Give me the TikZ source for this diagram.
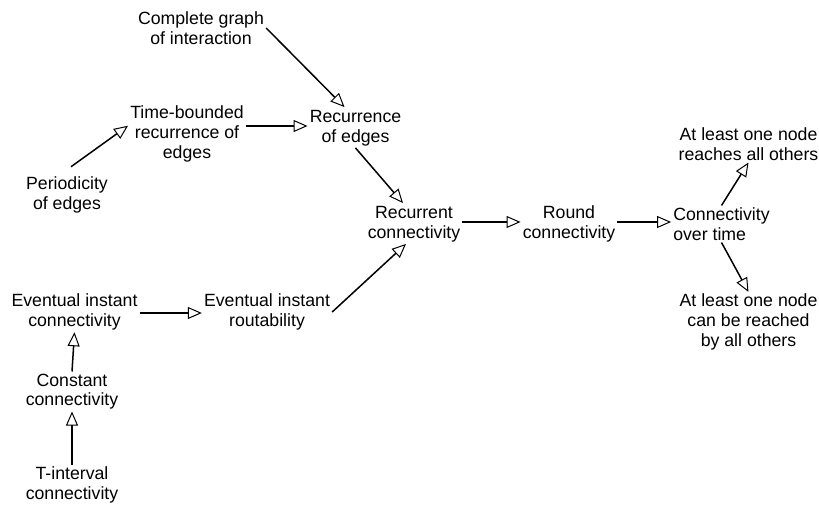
\documentclass[tikz,border=0pt]{standalone}
\usepackage{fontspec}
\setmainfont{Liberation Sans}
\usetikzlibrary{arrows.meta,calc}
\begin{document}
\begin{tikzpicture}[x=1pt,y=-1pt,
  lbl/.style={align=center,inner sep=2pt,font=\fontsize{17.7}{19.6}\selectfont},
  arr/.style={line width=1.5pt,-{Triangle[open,length=14pt,width=12pt,line width=1pt]}}]
\useasboundingbox (0,0) rectangle (819,506);
\node[lbl] (cg) at (201,28) {Complete graph\\of interaction};
\node[lbl] (tb) at (187,134) {Time-bounded\\recurrence of\\edges};
\node[lbl] (re) at (355.5,128) {Recurrence\\of edges};
\node[lbl] (pe) at (67,195) {Periodicity\\of edges};
\node[lbl] (rc) at (414,224) {Recurrent\\connectivity};
\node[lbl] (rd) at (569,224) {Round\\connectivity};
\node[lbl,align=left] (ct) at (721.5,224) {Connectivity\\over time};
\node[lbl] (top) at (748.5,144) {At least one node\\reaches all others};
\node[lbl] (bot) at (748.5,322) {At least one node\\can be reached\\by all others};
\node[lbl] (eic) at (74.5,312) {Eventual instant\\connectivity};
\node[lbl] (eir) at (267,312) {Eventual instant\\routability};
\node[lbl] (con) at (72,391.5) {Constant\\connectivity};
\node[lbl] (ti) at (72,485) {T-interval\\connectivity};
\draw[arr] (cg.east) -- ($(re.north)+(-11,-1)$);
\draw[arr] (tb.east |- 0,126) -- (re.west |- 0,126);
\draw[arr] ($(pe.north)+(4,-8)$) -- (tb.172);
\draw[arr] (re.south) -- ($(rc.north)+(-11,-1)$);
\draw[arr] (eir.east) -- ($(rc.south)+(-8,0)$);
\draw[arr] (eic.east |- 0,313) -- (eir.west |- 0,313);
\draw[arr] (rc.east |- 0,222) -- (rd.west |- 0,222);
\draw[arr] (rd.east |- 0,222) -- (ct.west |- 0,222);
\draw[arr] (ct.north) -- (top.south);
\draw[arr] (ct.south) -- (bot.north);
\draw[arr] (con.north) -- (eic.south);
\draw[arr] (ti.north) -- (con.south);
\end{tikzpicture}
\end{document}
